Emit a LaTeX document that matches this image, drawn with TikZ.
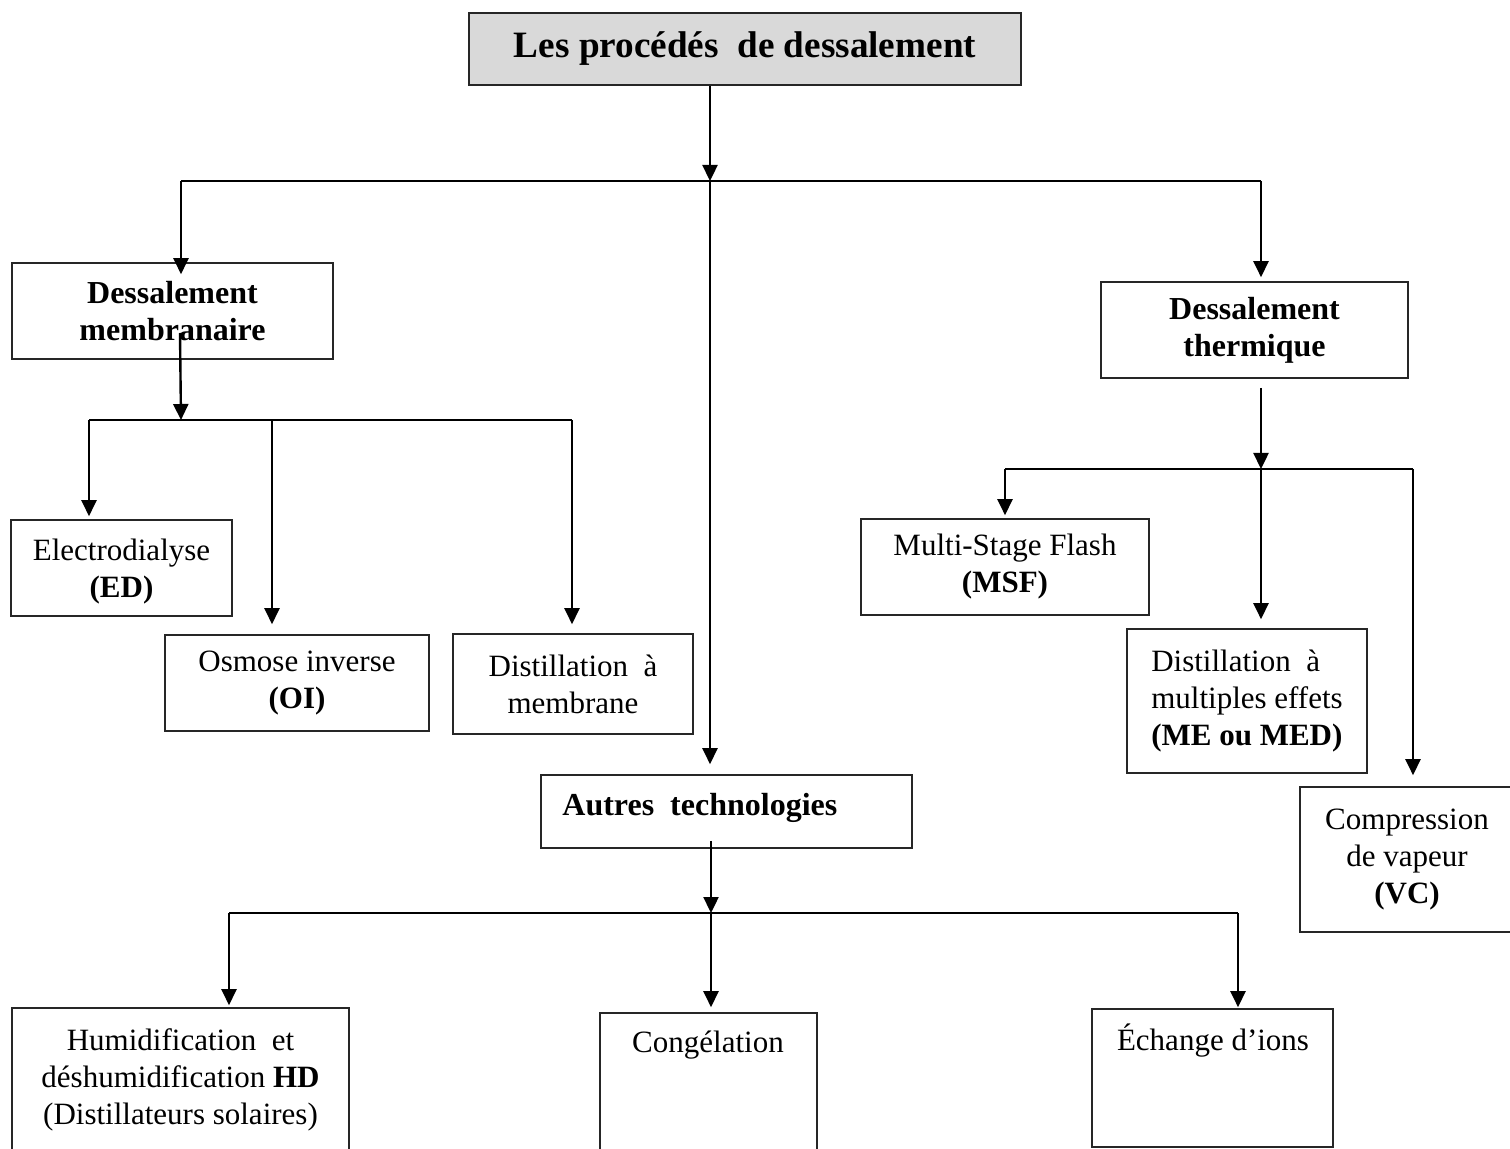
\documentclass[tikz,border=0pt]{standalone}
\usepackage{fontspec}
\setmainfont{Liberation Serif}
\usetikzlibrary{arrows.meta}
\begin{document}
\begin{tikzpicture}[x=0.5pt,y=-0.5pt,
 box/.style={draw=black!85, line width=0.8pt, inner sep=0pt, align=center, font=\fontsize{15.5}{18.5}\selectfont},
 bbox/.style={box, font=\fontsize{16}{18.5}\selectfont\bfseries},
 txt/.style={inner sep=0pt, align=center, font=\fontsize{15.5}{18.5}\selectfont},
 arr/.style={line width=1.2pt, -{Triangle[length=8pt,width=7.5pt]}},
 ln/.style={line width=1.1pt}]
\useasboundingbox (0,0) rectangle (1510,1149);

% boxes
\node[box, fill=black!15, minimum width=276pt, minimum height=36pt, font=\fontsize{18.6}{22}\selectfont\bfseries] (title) at (745,49) {Les procédés\ \ de dessalement};
\node[bbox, minimum width=160.5pt, minimum height=48pt] (mem) at (172.5,311) {Dessalement\\membranaire};
\node[bbox, minimum width=153.5pt, minimum height=48pt] (the) at (1254.5,330) {Dessalement\\thermique};
\node[box, minimum width=110.5pt, minimum height=48pt, text depth=0pt] (ed) at (121.5,568) {Electrodialyse\\\textbf{(ED)}};
\node[box, minimum width=132pt, minimum height=48pt] (oi) at (297,683) {\raisebox{-2pt}{\parbox{130pt}{\centering Osmose inverse\\\textbf{(OI)}}}};
\node[box, minimum width=120pt, minimum height=50pt] (dm) at (573,684) {Distillation\ \ à\\membrane};
\node[box, minimum width=144pt, minimum height=48pt] (msf) at (1005,567) {\raisebox{-1.5pt}{\parbox{140pt}{\centering Multi-Stage Flash\\\textbf{(MSF)}}}};
\node[box, align=left, minimum width=120pt, minimum height=72pt] (med) at (1247,701) {Distillation\ \ à\\multiples effets\\\textbf{(ME ou MED)}};
\node[box, minimum width=107pt, minimum height=72.5pt] (vc) at (1407,859.5) {Compression\\de vapeur\\\textbf{(VC)}};
\node[box, minimum width=185.5pt, minimum height=36.5pt] (aut) at (726.5,811.5) {};
\node[txt, anchor=west, font=\fontsize{16}{18.5}\selectfont\bfseries] (autt) at (562,808) {Autres\ \ technologies};
\node[box, minimum width=168.5pt, minimum height=72pt] (hd) at (180.5,1080) {Humidification\ \ et\\déshumidification \textbf{HD}\\(Distillateurs solaires)};
\node[box, minimum width=108.5pt, minimum height=69.5pt] (cong) at (708.5,1082.5) {};
\node[txt] (congt) at (708,1045) {Congélation};
\node[box, minimum width=120.5pt, minimum height=69pt] (ech) at (1212.5,1078) {};
\node[txt] (echt) at (1213,1041) {Échange d’ions};

% top level
\coordinate (J0) at (710,181);
\coordinate (Lb) at (181,181);
\coordinate (Rb) at (1261,181);
\draw[arr] (title.south -| J0) -- (J0);
\draw[ln] (Lb) -- (Rb);
\draw[arr, shorten >=-6pt] (Lb) -- (mem.north -| Lb);
\draw[arr, shorten >=2pt] (Rb) -- (the.north -| Rb);
\draw[arr, shorten >=5pt] (J0) -- (aut.north -| J0);

% membrane branch
\coordinate (M0) at (180,333);
\coordinate (M1) at (181,420);
\coordinate (Ml) at (89,420);
\coordinate (Mo) at (272,420);
\coordinate (Mr) at (572,420);
\draw[arr] (M0) -- (M1);
\draw[ln] (Ml) -- (Mr);
\draw[arr, shorten >=1.5pt] (Ml) -- (ed.north -| Ml);
\draw[arr, shorten >=5pt] (Mo) -- (oi.north -| Mo);
\draw[arr, shorten >=4.5pt] (Mr) -- (dm.north -| Mr);

% thermal branch
\coordinate (T1) at (1261,469);
\coordinate (Tl) at (1005,469);
\coordinate (Tr) at (1413,469);
\draw[arr, shorten <=4.5pt] (the.south -| T1) -- (T1);
\draw[ln] (Tl) -- (Tr);
\draw[arr, shorten >=1.5pt] (Tl) -- (msf.north -| Tl);
\draw[arr, shorten >=4.5pt] (T1) -- (med.north -| T1);
\draw[arr, shorten >=5.5pt] (Tr) -- (vc.north -| Tr);

% other technologies
\coordinate (A1) at (711,913);
\coordinate (Al) at (229,913);
\coordinate (Ar) at (1238,913);
\draw[arr, shorten <=-4pt] (aut.south -| A1) -- (A1);
\draw[ln] (Al) -- (Ar);
\draw[arr, shorten >=1pt] (Al) -- (hd.north -| Al);
\draw[arr, shorten >=2.5pt] (A1) -- (cong.north -| A1);
\draw[arr, shorten >=0.5pt] (Ar) -- (ech.north -| Ar);
\end{tikzpicture}
\end{document}
